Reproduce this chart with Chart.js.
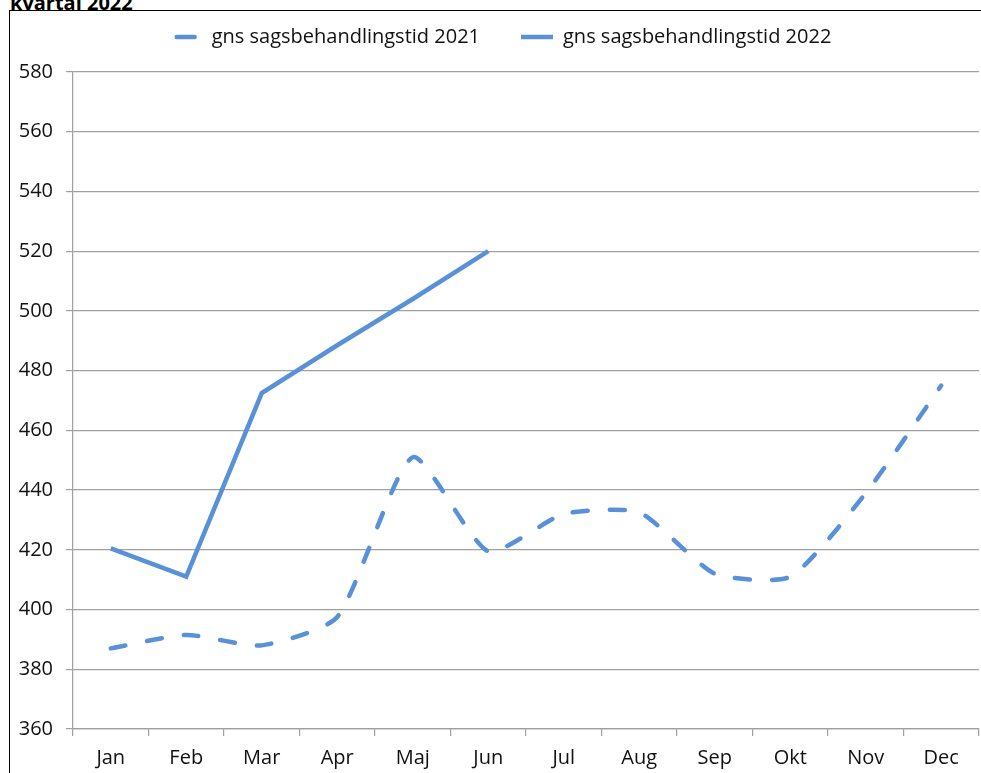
<!DOCTYPE html>
<html>
<head>
<meta charset="utf-8">
<script src="https://cdn.jsdelivr.net/npm/chart.js@4.4.1/dist/chart.umd.min.js"></script>
<style>
body{margin:0;background:#fff;overflow:hidden;width:981px;height:773px;position:relative}
#frame{position:absolute;left:9px;top:10px;width:1000px;height:800px;border:1px solid #000}
#title{position:absolute;left:10px;top:-7px;font:bold 20px "Open Sans";line-height:20px;color:#000;white-space:nowrap}
#c{position:absolute;left:0;top:0}
</style>
</head>
<body>
<div id="title">kvartal 2022</div>
<div id="frame"></div>
<canvas id="c" width="981" height="773"></canvas>
<script>
// months and avg. case handling time (days)
var months = ['Jan','Feb','Mar','Apr','Maj','Jun','Jul','Aug','Sep','Okt','Nov','Dec'];
var tid2021 = [387, 391.5, 388, 397.5, 451, 419.5, 432, 432.5, 412, 411, 439, 475];
var tid2022 = [420.5, 411, 472.5, 488.5, 504, 520, null, null, null, null, null, null];
var yMin = 360, yMax = 580, yStep = 20;

var blue = '#5891d8';
var grey = '#a0a0a0';

Chart.defaults.font.family = '"Open Sans", sans-serif';
Chart.defaults.color = '#111';

// legend: fixed height, and nudge the items into place
var legendPlace = {
  id: 'legendPlace',
  beforeInit: function(chart) {
    var fit = chart.legend.fit;
    chart.legend.fit = function() {
      fit.call(this);
      this.height = 64;
    };
  },
  afterLayout: function(chart) {
    var lg = chart.legend;
    lg.left += 11; lg.right += 11;
    lg.top -= 22; lg.bottom -= 22;
  }
};

new Chart(document.getElementById('c'), {
  type: 'line',
  data: {
    labels: months,
    datasets: [{
      label: 'gns sagsbehandlingstid 2021',
      data: tid2021,
      borderColor: blue,
      backgroundColor: blue,
      borderWidth: 4.5,
      borderDash: [15, 22],
      borderCapStyle: 'round',
      tension: 0.2,
      pointRadius: 0,
      fill: false
    }, {
      label: 'gns sagsbehandlingstid 2022',
      data: tid2022,
      borderColor: blue,
      backgroundColor: blue,
      borderWidth: 4.5,
      borderCapStyle: 'butt',
      tension: 0,
      pointRadius: 0,
      fill: false
    }]
  },
  options: {
    responsive: false,
    animation: false,
    layout: { padding: { left: 0, right: 2, top: 8, bottom: 0 } },
    plugins: {
      tooltip: { enabled: false },
      legend: {
        position: 'top',
        labels: {
          boxWidth: 32,
          boxHeight: 0,
          padding: 41,
          font: { size: 20 },
          color: '#111',
          generateLabels: function(chart) {
            var items = Chart.defaults.plugins.legend.labels.generateLabels(chart);
            items.forEach(function(it, i) {
              it.fillStyle = 'rgba(0,0,0,0)';
              it.lineWidth = 4.5;
              if (i === 0) {
                it.lineDash = [18, 200];
                it.lineDashOffset = -7;
                it.lineCap = 'round';
              } else {
                it.lineDash = [];
                it.lineCap = 'square';
              }
            });
            return items;
          }
        }
      }
    },
    scales: {
      x: {
        offset: true,
        grid: { offset: true, drawOnChartArea: false, tickLength: 7, color: grey, lineWidth: 1.2 },
        border: { color: grey, width: 1.2 },
        ticks: { font: { size: 20 }, padding: 10, maxRotation: 0, autoSkip: false },
        afterFit: function(s) { s.height = 44; }
      },
      y: {
        min: yMin,
        max: yMax,
        ticks: { stepSize: yStep, font: { size: 20 }, padding: 13 },
        grid: { color: grey, tickLength: 7, lineWidth: 1.2 },
        border: { color: grey, width: 1.2 },
        afterFit: function(s) { s.width = 73; }
      }
    }
  },
  plugins: [legendPlace]
});
</script>
</body>
</html>
